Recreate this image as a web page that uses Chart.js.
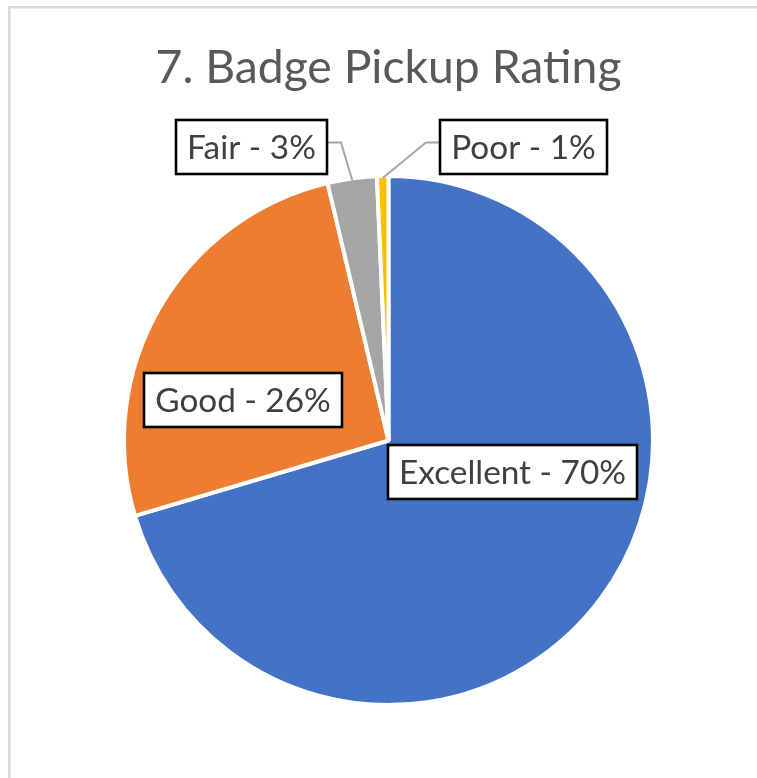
<!DOCTYPE html>
<html><head><meta charset="utf-8">
<script src="https://cdn.jsdelivr.net/npm/chart.js@4/dist/chart.umd.min.js"></script>
<style>html,body{margin:0;padding:0;background:#fff;overflow:hidden}#wrap{width:757px;height:778px;position:relative}canvas{display:block}</style>
</head><body><div id="wrap"><canvas id="c" width="757" height="778"></canvas></div>
<script>
// ---- data ----
const chartTitle = '7. Badge Pickup Rating';
const categories = ['Excellent', 'Good', 'Fair', 'Poor'];
const percentValues = [70.4, 25.9, 3.0, 0.7];
const sliceColors = ['#4472C4', '#ED7D31', '#A5A5A5', '#FFC000'];

// ---- fonts sized to match reference text widths ----
const FAMILY = 'Lato';
function fitSize(text, target) {
  const c = document.createElement('canvas').getContext('2d');
  c.font = `400 100px ${FAMILY}`;
  return 100 * target / c.measureText(text).width;
}
const titleSize = fitSize(chartTitle, 466);
const labelSize = fitSize('Excellent - 70%', 227);
const titleTop = 66 - 0.545 * titleSize;
const titleBottom = 103 - titleTop - 1.2 * titleSize;

const framePlugin = {
  id: 'frame',
  beforeDraw(chart) {
    const ctx = chart.ctx;
    ctx.save();
    ctx.fillStyle = '#ffffff';
    ctx.fillRect(0, 0, chart.width, chart.height);
    ctx.fillStyle = '#D9D9D9';
    ctx.fillRect(8, 6, chart.width, 2.5);
    ctx.fillRect(8, 6, 2.5, chart.height);
    ctx.restore();
  }
};

const boxLabelPlugin = {
  id: 'boxLabels',
  afterDatasetsDraw(chart, args, opts) {
    const ctx = chart.ctx;
    const meta = chart.getDatasetMeta(0);
    const ds = chart.data.datasets[0];
    ctx.save();
    ctx.font = `400 ${labelSize}px ${FAMILY}`;
    const capH = ctx.measureText('H').actualBoundingBoxAscent;
    meta.data.forEach((arc, i) => {
      const pos = opts.positions[i];
      const text = `${chart.data.labels[i]} - ${Math.round(ds.data[i])}%`;
      const tw = ctx.measureText(text).width;
      const w = Math.round(tw + 2 * opts.padX), h = opts.boxH;
      const x = Math.round(pos.x - w / 2), y = Math.round(pos.y - h / 2);
      if (pos.leader) {
        const p = arc.getProps(['x', 'y', 'startAngle', 'endAngle', 'outerRadius'], true);
        const mid = (p.startAngle + p.endAngle) / 2;
        const r = p.outerRadius - 2;
        const ex = p.x + Math.cos(mid) * r, ey = p.y + Math.sin(mid) * r;
        const ly = pos.y - 4;
        const sx = pos.leader === 'right' ? x + w : x;
        const kx = pos.leader === 'right' ? sx + 14 : sx - 14;
        ctx.strokeStyle = '#A6A6A6';
        ctx.lineWidth = 2;
        ctx.beginPath();
        ctx.moveTo(sx, ly); ctx.lineTo(kx, ly); ctx.lineTo(ex, ey);
        ctx.stroke();
      }
      ctx.fillStyle = '#ffffff';
      ctx.fillRect(x, y, w, h);
      ctx.strokeStyle = '#000000';
      ctx.lineWidth = 2.6;
      ctx.strokeRect(x, y, w, h);
      ctx.fillStyle = '#404040';
      ctx.textAlign = 'center';
      ctx.textBaseline = 'alphabetic';
      ctx.fillText(text, x + w / 2, pos.y + capH / 2);
    });
    ctx.restore();
  }
};

new Chart(document.getElementById('c'), {
  type: 'pie',
  data: {
    labels: categories,
    datasets: [{
      data: percentValues,
      backgroundColor: sliceColors,
      borderColor: '#ffffff',
      borderWidth: 4,
      radius: 264.5
    }]
  },
  options: {
    responsive: false,
    animation: false,
    devicePixelRatio: 1,
    layout: { padding: { left: 20, right: 0, top: 0, bottom: 0 } },
    plugins: {
      legend: { display: false },
      tooltip: { enabled: false },
      title: {
        display: true,
        text: chartTitle,
        color: '#595959',
        font: { family: FAMILY, size: titleSize, weight: 'normal', lineHeight: 1.2 },
        padding: { top: titleTop, bottom: titleBottom }
      },
      boxLabels: {
        padX: 11,
        boxH: 54,
        positions: [
          { x: 512.5, y: 472 },
          { x: 243, y: 400 },
          { x: 251.5, y: 146.5, leader: 'right' },
          { x: 523.7, y: 146.5, leader: 'left' }
        ]
      }
    }
  },
  plugins: [framePlugin, boxLabelPlugin]
});
</script>
</body></html>
